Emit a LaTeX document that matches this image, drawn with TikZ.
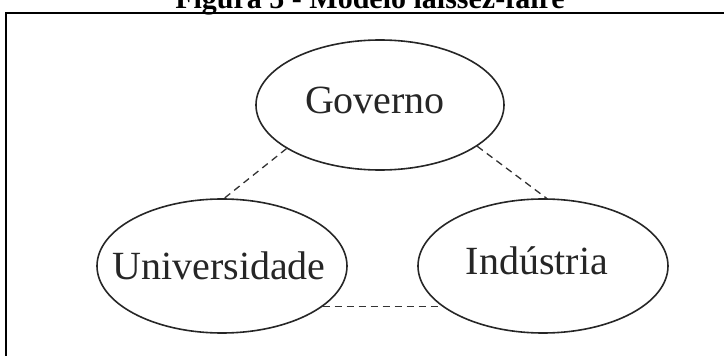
\documentclass[tikz,border=0pt]{standalone}
\usepackage{fontspec}
\setmainfont{Liberation Serif}
\usetikzlibrary{shapes.geometric}
\begin{document}
\begin{tikzpicture}[x=1pt,y=-1pt,
  oval/.style={draw=black!85,line width=1.6pt,ellipse,inner sep=0pt},
  lbl/.style={anchor=base,inner sep=0pt,text=black!85,font=\fontsize{40}{46}\selectfont},
  link/.style={draw=black!80,line width=1.3pt,dash pattern=on 7pt off 5pt},
  frameline/.style={draw=black,line width=2.2pt}]
\useasboundingbox (0,0) rectangle (724,356);
% title (cut off at the top)
\node[anchor=base,inner sep=0pt,font=\bfseries\fontsize{30}{34}\selectfont] (title) at (370,9) {Figura 5 - Modelo laissez-faire};
% frame
\coordinate (fa) at (6.3,362);
\coordinate (fb) at (6.3,12.7);
\coordinate (fc) at (730,12.7);
\draw[frameline] (fa) -- (fb) -- (fc);
% ellipses
\node[oval,minimum width=248pt,minimum height=130pt] (gov) at (380,105) {};
\node[oval,minimum width=250pt,minimum height=134pt] (uni) at (222,266) {};
\node[oval,minimum width=250pt,minimum height=134pt] (ind) at (543,266) {};
% labels
\node[lbl] (govt) at (375,113) {Governo};
\node[lbl] (unit) at (219,279) {Universidade};
\node[lbl] (indt) at (537,274) {Indústria};
% connectors
\draw[link] (gov.205) -- (uni.88);
\draw[link] (gov.337) -- (ind.87);
\draw[link] (uni.338) -- (ind.202);
\end{tikzpicture}
\end{document}
